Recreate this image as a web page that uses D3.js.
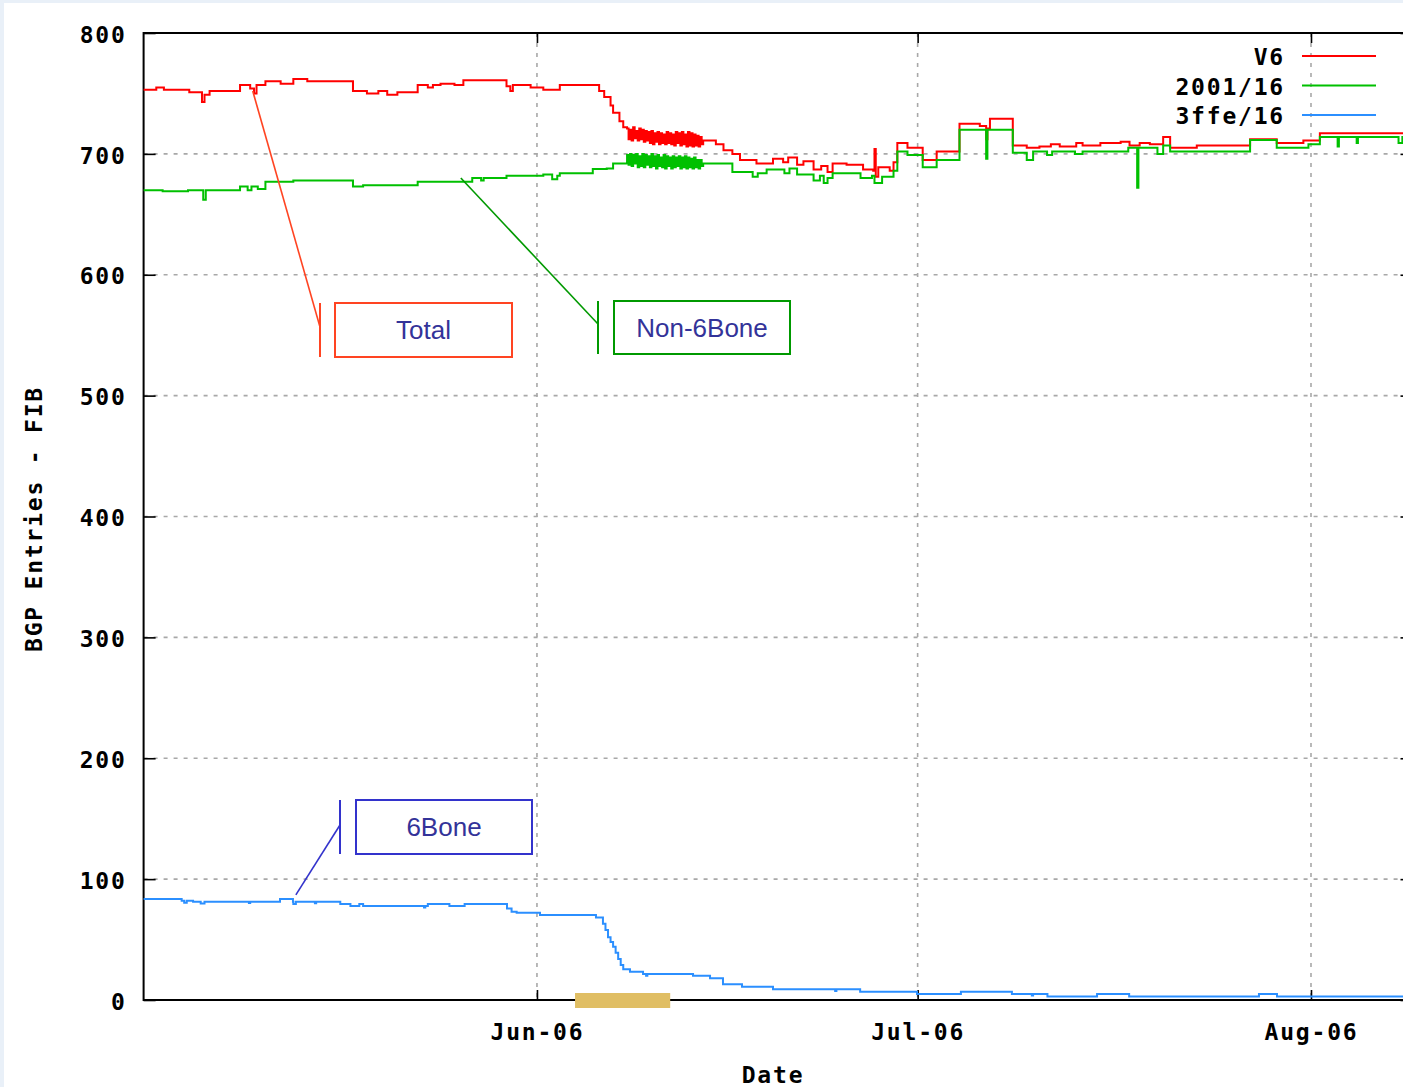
<!DOCTYPE html>
<html>
<head>
<meta charset="utf-8">
<script src="https://cdn.jsdelivr.net/npm/d3@7"></script>
<style>
  html, body { margin: 0; padding: 0; background: #e9f0f8; }
  svg { display: block; }
  .mono { font-family: "DejaVu Sans Mono", "Liberation Mono", monospace; font-weight: bold; font-size: 23px; letter-spacing: 1.8px; fill: #000; }
  .note { font-family: "Liberation Sans", Arial, sans-serif; font-size: 26px; fill: #333399; }
</style>
</head>
<body>
<div id="chart"></div>
<script>
// series as [days since 2006-05-01, BGP entries]
const v6Data = [
  [0, 753], [1.0, 755], [1.6, 753], [3.6, 751], [4.6, 743], [4.8, 749], [5.2, 752], [7.4, 752],
  [7.6, 757], [8.4, 754], [8.7, 750], [8.9, 757], [9.6, 760], [10.8, 758], [11.8, 762], [12.9, 760],
  [16.5, 752], [17.6, 750], [18.5, 752], [19.2, 749], [20.0, 751], [21.6, 757], [22.4, 755], [22.8, 757],
  [23.4, 758], [24.5, 757], [25.2, 761], [28.6, 756], [28.9, 752], [29.1, 757], [30.5, 755], [31.5, 753],
  [32.8, 757], [35.6, 757], [35.9, 752], [36.3, 747], [36.8, 740], [37.0, 734], [37.5, 727], [37.8, 722],
  [38.10, 721], [38.22, 712], [38.34, 720], [38.46, 711], [38.58, 722], [38.70, 713], [38.82, 719], [38.94, 711],
  [39.06, 721], [39.18, 712], [39.30, 720], [39.42, 710], [39.54, 719], [39.66, 711], [39.78, 718], [39.90, 709],
  [40.02, 719], [40.14, 708], [40.26, 717], [40.38, 710], [40.50, 718], [40.62, 708], [40.74, 717], [40.86, 709],
  [40.98, 716], [41.10, 708], [41.22, 718], [41.34, 709], [41.46, 717], [41.58, 708], [41.70, 716], [41.82, 707],
  [41.94, 718], [42.06, 709], [42.18, 717], [42.30, 707], [42.42, 718], [42.54, 708], [42.66, 716], [42.78, 706],
  [42.90, 718], [43.02, 707], [43.14, 717], [43.26, 706], [43.38, 716], [43.50, 707], [43.62, 715], [43.74, 706],
  [43.86, 714], [43.98, 708], [44.1, 711], [45.1, 708],
  [45.7, 703], [46.4, 700], [47.0, 695], [48.3, 692], [49.6, 696], [50.4, 693], [50.8, 697], [51.5, 691],
  [52.0, 694], [52.8, 687], [53.4, 690], [53.9, 685], [54.3, 692], [55.4, 691], [56.7, 687], [57.5, 686],
  [57.6, 704], [57.7, 681], [57.9, 689], [58.8, 686], [59.1, 693], [59.4, 709], [60.2, 705], [61.4, 695],
  [62.5, 702], [64.3, 725], [65.9, 723], [66.4, 712], [66.5, 721], [66.7, 729], [68.5, 707], [69.6, 705],
  [70.6, 706], [71.5, 708], [72.2, 706], [73.5, 709], [74.0, 707], [75.4, 709], [77.0, 710], [77.7, 707],
  [78.5, 709], [79.3, 708], [80.35, 714], [80.9, 705], [83.0, 707], [87.2, 712], [89.3, 709], [91.4, 711],
  [92.7, 717], [100, 717]
];

const net2001Data = [
  [0, 670], [1.5, 669], [3.5, 670], [4.7, 662], [4.9, 670], [7.4, 670], [7.6, 673], [8.2, 670],
  [8.5, 673], [9.0, 671], [9.6, 677], [10.8, 677], [11.8, 678], [16.5, 673], [17.3, 674], [19.2, 674],
  [21.6, 677], [25.9, 680], [26.6, 678], [26.8, 680], [28.6, 682], [30.4, 682], [31.5, 683], [32.2, 679],
  [32.6, 682], [32.8, 684], [35.4, 687.5], [36.5, 688], [37.0, 692],
  [38.10, 699], [38.22, 691], [38.34, 700], [38.46, 690], [38.58, 699], [38.70, 692], [38.82, 700], [38.94, 689],
  [39.06, 698], [39.18, 690], [39.30, 700], [39.42, 689], [39.54, 699], [39.66, 691], [39.78, 698], [39.90, 689],
  [40.02, 700], [40.14, 690], [40.26, 698], [40.38, 688], [40.50, 699], [40.62, 690], [40.74, 697], [40.86, 689],
  [40.98, 699], [41.10, 688], [41.22, 698], [41.34, 690], [41.46, 697], [41.58, 688], [41.70, 698], [41.82, 689],
  [41.94, 697], [42.06, 690], [42.18, 698], [42.30, 688], [42.42, 697], [42.54, 689], [42.66, 698], [42.78, 688],
  [42.90, 697], [43.02, 689], [43.14, 696], [43.26, 688], [43.38, 697], [43.50, 689], [43.62, 695], [43.74, 688],
  [43.86, 695], [43.98, 690], [44.1, 692], [46.4, 685],
  [48.0, 681], [48.4, 684], [49.1, 687], [50.5, 684], [50.9, 688], [51.5, 683], [52.8, 678], [53.3, 682],
  [53.6, 676], [53.9, 680], [54.3, 684], [56.5, 680], [57.4, 682], [57.6, 676], [58.2, 681], [59.1, 686],
  [59.4, 702], [60.2, 699], [61.4, 689], [62.5, 695], [64.3, 720], [66.4, 696], [66.5, 720], [68.5, 701],
  [69.6, 695], [70.1, 702], [71.2, 699], [71.6, 702], [73.4, 700], [74.0, 702], [77.6, 705], [78.2, 705],
  [78.3, 672], [78.4, 705], [79.9, 700], [80.35, 707], [80.9, 702], [87.2, 711.5], [89.3, 705], [91.8, 708],
  [92.7, 714], [94.0, 714], [94.1, 706], [94.2, 714], [95.5, 714], [95.6, 709], [95.7, 714], [98.8, 714],
  [98.9, 709], [99.2, 714], [100, 714]
];

const net3ffeData = [
  [0, 83.6], [3.0, 82.2], [3.2, 80.5], [3.4, 82.2], [3.9, 81.3], [4.5, 79.8], [4.8, 81.3], [8.3, 80.3],
  [8.4, 81.3], [10.75, 83.6], [11.77, 81.3], [11.8, 79.5], [12.0, 81.3], [13.5, 80], [13.6, 81.3],
  [15.5, 79.4], [16.3, 77.8], [17.0, 79.4], [17.3, 77.8], [22.1, 76.5], [22.2, 77.8], [22.4, 79.4],
  [24.1, 77.8], [25.3, 79.4], [28.64, 75.7], [29.0, 73], [29.4, 72.2], [31.24, 70.3], [35.65, 68.3],
  [36.2, 63], [36.4, 58], [36.6, 52], [36.8, 48], [37.0, 44], [37.2, 39], [37.4, 34], [37.6, 29],
  [37.8, 25.4], [38.33, 23.4], [39.36, 21.5], [39.6, 20], [39.7, 21.5], [43.3, 20.1], [44.64, 17.9],
  [45.66, 13], [47.16, 11], [49.6, 8.8], [54.5, 7.5], [54.6, 8.8], [56.47, 6.9], [60.95, 5],
  [64.41, 6.9], [68.43, 5], [70.0, 3.8], [70.1, 5], [71.23, 2.8], [75.14, 5], [77.67, 2.8],
  [87.9, 5], [89.32, 2.8], [100, 2.8]
];

const seriesNames = ["V6", "2001/16", "3ffe/16"];
const seriesColors = ["#ff0000", "#00c000", "#2b8fff"];
const yTicks = [0, 100, 200, 300, 400, 500, 600, 700, 800];
const xTickDates = ["2006-06-01", "2006-07-01", "2006-08-01"];
const highlightDays = [34, 41.5];

const notes = [
  { label: "Total", color: "#ff4422", anchor: [8.6, 752], bracketX: 320, hookY: 327, box: [335, 303, 177, 54] },
  { label: "Non-6Bone", color: "#009900", anchor: [25.0, 680], bracketX: 598, hookY: 324, box: [614, 301, 176, 53] },
  { label: "6Bone", color: "#3333cc", anchor: [12.0, 87], bracketX: 340, hookY: 825, box: [356, 800, 176, 54] }
];

const W = 1403, H = 1087;
const plotLeft = 143.6, plotRight = 1412.5, plotTop = 33, plotBottom = 1000;
const start = new Date(2006, 4, 1);
const dayToDate = d => new Date(start.getTime() + d * 864e5);
const parse = d3.timeParse("%Y-%m-%d");

const svg = d3.select("#chart").append("svg").attr("width", W).attr("height", H);
svg.append("rect").attr("x", 4).attr("y", 3).attr("width", W).attr("height", H).attr("fill", "#fff");

const x = d3.scaleTime().domain([start, dayToDate(100)]).range([plotLeft, plotRight]);
const y = d3.scaleLinear().domain([0, 800]).range([plotBottom, plotTop]);

// grid
const grid = svg.append("g").attr("stroke", "#a8a8a8").attr("stroke-width", 1.6).attr("stroke-dasharray", "4,6");
yTicks.filter(v => v > 0 && v < 800).forEach(v => {
  grid.append("line").attr("x1", plotLeft).attr("x2", plotRight).attr("y1", y(v)).attr("y2", y(v));
});
xTickDates.forEach(s => {
  grid.append("line").attr("x1", x(parse(s))).attr("x2", x(parse(s))).attr("y1", plotTop).attr("y2", plotBottom);
});

// axes
const tickDates = xTickDates.map(parse);
svg.append("g").attr("transform", `translate(0,${plotBottom})`)
  .call(d3.axisBottom(x).tickValues(tickDates).tickFormat(d3.timeFormat("%b-%y")).tickSize(-10).tickPadding(24));
svg.append("g").attr("transform", `translate(0,${plotTop})`)
  .call(d3.axisTop(x).tickValues(tickDates).tickFormat("").tickSize(-10));
const yAxis = svg.append("g").attr("transform", `translate(${plotLeft},0)`)
  .call(d3.axisLeft(y).tickValues(yTicks).tickSize(-12).tickPadding(17));
svg.append("g").attr("transform", `translate(${plotRight},0)`)
  .call(d3.axisRight(y).tickValues(yTicks).tickFormat("").tickSize(-12));

svg.selectAll(".domain").remove();
svg.selectAll(".tick line").attr("stroke", "#000").attr("stroke-width", 1.6);
svg.selectAll(".tick text").attr("class", "mono").attr("font-family", null).attr("font-size", null);
yAxis.selectAll(".tick text").attr("dy", "0.4em");

svg.append("rect").attr("x", plotLeft).attr("y", plotTop).attr("width", plotRight - plotLeft).attr("height", plotBottom - plotTop)
  .attr("fill", "none").attr("stroke", "#000").attr("stroke-width", 2);

// series
const line = d3.line().curve(d3.curveStepAfter).x(d => x(dayToDate(d[0]))).y(d => y(d[1]));
[v6Data, net2001Data, net3ffeData].forEach((data, i) => {
  svg.append("path").datum(data).attr("d", line)
    .attr("fill", "none").attr("stroke", seriesColors[i]).attr("stroke-width", 2);
});

// highlight bar on x axis
svg.append("rect")
  .attr("x", x(dayToDate(highlightDays[0]))).attr("y", plotBottom - 7)
  .attr("width", x(dayToDate(highlightDays[1])) - x(dayToDate(highlightDays[0]))).attr("height", 15)
  .attr("fill", "#e0be64");

// legend
seriesNames.forEach((name, i) => {
  const ly = 56 + i * 29.5;
  svg.append("text").attr("class", "mono").attr("x", 1285).attr("y", ly + 9)
    .attr("text-anchor", "end").text(name);
  svg.append("line").attr("x1", 1302).attr("x2", 1376).attr("y1", ly).attr("y2", ly)
    .attr("stroke", seriesColors[i]).attr("stroke-width", 2);
});

// axis titles
svg.append("text").attr("class", "mono").attr("x", 773).attr("y", 1083).attr("text-anchor", "middle").text("Date");
svg.append("text").attr("class", "mono").attr("transform", "translate(42,519) rotate(-90)")
  .attr("text-anchor", "middle").text("BGP Entries - FIB");

// annotations
notes.forEach(n => {
  const [bx, by, bw, bh] = n.box;
  const g = svg.append("g").attr("stroke", n.color).attr("stroke-width", 2).attr("fill", "none");
  g.append("line").attr("x1", x(dayToDate(n.anchor[0]))).attr("y1", y(n.anchor[1]))
    .attr("x2", n.bracketX).attr("y2", n.hookY).attr("stroke-width", 1.6);
  g.append("line").attr("x1", n.bracketX).attr("x2", n.bracketX).attr("y1", by).attr("y2", by + bh);
  g.append("rect").attr("x", bx).attr("y", by).attr("width", bw).attr("height", bh);
  svg.append("text").attr("class", "note").attr("x", bx + bw / 2).attr("y", by + bh / 2 + 9)
    .attr("text-anchor", "middle").text(n.label);
});
</script>
</body>
</html>
